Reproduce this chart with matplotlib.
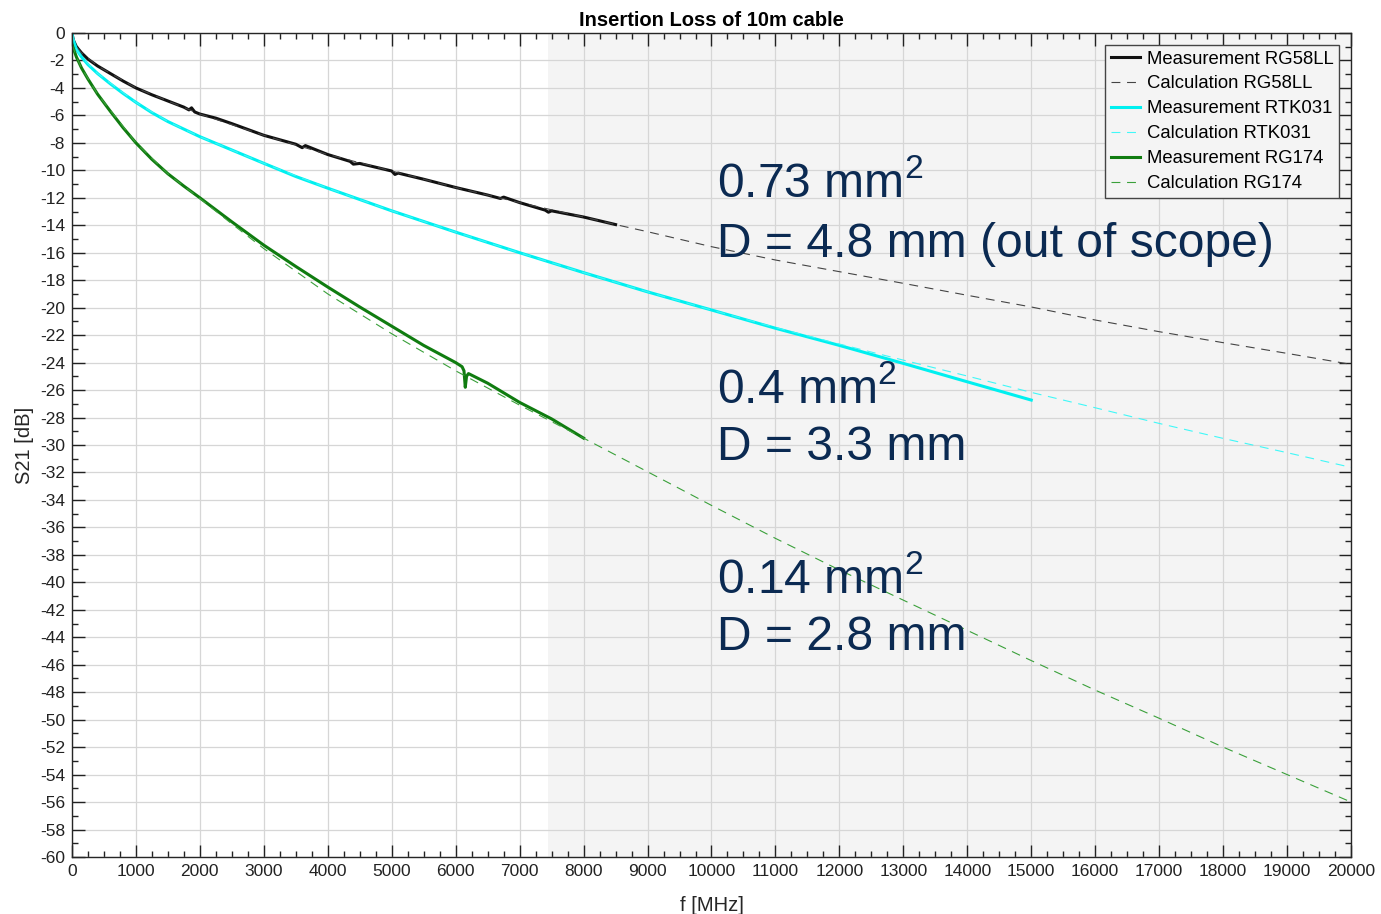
import matplotlib
matplotlib.use('Agg')
import matplotlib.pyplot as plt
from matplotlib.ticker import MultipleLocator

plt.rcParams['font.family'] = ['Liberation Sans', 'DejaVu Sans']
plt.rcParams['axes.unicode_minus'] = False
plt.rcParams['mathtext.fontset'] = 'custom'
plt.rcParams['mathtext.rm'] = 'Liberation Sans'

f_meas_rg58 = [0, 20, 70, 150, 250, 400, 600, 800, 1000, 1250, 1500, 1750,
               1830, 1870, 1920, 2000, 2250, 2500, 3000, 3500, 3600, 3650,
               4000, 4350, 4400, 4500, 5000, 5050, 5100, 5500, 6000, 6500,
               6700, 6750, 7000, 7400, 7450, 7500, 8000, 8500]
s21_meas_rg58 = [0, -0.5, -1.0, -1.45, -1.9, -2.4, -2.95, -3.5, -4.0, -4.5,
                 -4.95, -5.4, -5.6, -5.45, -5.75, -5.9, -6.2, -6.6, -7.45,
                 -8.1, -8.35, -8.2, -8.85, -9.35, -9.55, -9.5, -10.05, -10.3,
                 -10.2, -10.65, -11.25, -11.8, -12.05, -11.95, -12.35, -12.9,
                 -13.05, -12.95, -13.4, -13.95]

f_calc_rg58 = [0, 70, 150, 400, 1000, 1500, 2000, 3000, 4000, 5000, 6000,
               7000, 8000, 8500, 9000, 10000, 11000, 12000, 13000, 14000,
               15000, 16000, 17000, 18000, 19000, 20000]
s21_calc_rg58 = [0, -1.0, -1.45, -2.4, -4.0, -4.95, -5.9, -7.45, -8.85,
                 -10.05, -11.25, -12.35, -13.4, -13.95, -14.47, -15.56,
                 -16.53, -17.38, -18.23, -19.1, -19.95, -20.9, -21.75, -22.55,
                 -23.33, -24.13]

f_meas_rtk = [0, 20, 70, 150, 250, 400, 600, 800, 1000, 1250, 1500, 1750,
              2000, 2500, 3000, 3500, 4000, 5000, 6000, 7000, 8000, 9000,
              10000, 11000, 12000, 13000, 14000, 15000]
s21_meas_rtk = [0, -0.5, -1.2, -1.75, -2.3, -2.95, -3.7, -4.4, -5.05,
                -5.8, -6.45, -7.0, -7.55, -8.52, -9.49, -10.45, -11.3, -12.95,
                -14.5, -16.0, -17.45, -18.85, -20.17, -21.5, -22.75, -24.06,
                -25.4, -26.73]

f_calc_rtk = [0, 70, 150, 400, 1000, 1500, 2000, 3000, 4000, 5000, 6000,
              7000, 8000, 9000, 10000, 11000, 12000, 13000, 14000, 15000,
              16000, 17000, 18000, 19000, 20000]
s21_calc_rtk = [0, -1.2, -1.75, -2.95, -5.05, -6.45, -7.55, -9.49, -11.3,
                -12.95, -14.5, -16.0, -17.45, -18.85, -20.17, -21.45, -22.65,
                -23.82, -24.98, -26.17, -27.29, -28.43, -29.52, -30.56, -31.63]

f_meas_rg174 = [0, 20, 70, 150, 250, 400, 600, 800, 1000, 1250, 1500, 1750,
                2000, 2500, 3000, 3500, 4000, 4500, 5000, 5500, 6000, 6100,
                6130, 6150, 6170, 6200, 6500, 7000, 7500, 8000]
s21_meas_rg174 = [-0.8, -1.1, -1.75, -2.55, -3.35, -4.45, -5.7, -6.9,
                  -8.0, -9.2, -10.25, -11.15, -12.0, -13.75, -15.45, -17.0,
                  -18.5, -19.95, -21.35, -22.75, -24.0, -24.3, -24.6, -25.8,
                  -25.0, -24.8, -25.5, -26.9, -28.1, -29.5]

f_calc_rg174 = [0, 70, 150, 400, 1000, 1500, 2000, 2500, 3000, 4000, 5000,
                6000, 7000, 8000, 9000, 10000, 11000, 12000, 13000, 14000,
                15000, 16000, 17000, 18000, 19000, 20000]
s21_calc_rg174 = [-0.8, -1.75, -2.55, -4.45, -8.0, -10.25, -12.05, -13.9,
                  -15.7, -19.0, -21.9, -24.6, -27.1, -29.5, -31.95, -34.4,
                  -36.8, -39.1, -41.3, -43.5, -45.7, -47.85, -49.9, -52.0,
                  -54.0, -56.0]

labels = ['Measurement RG58LL', 'Calculation RG58LL',
          'Measurement RTK031', 'Calculation RTK031',
          'Measurement RG174', 'Calculation RG174']

notes = [(-11.0, '0.73 mm$^2$'), (-15.4, 'D = 4.8 mm (out of scope)'),
         (-26.0, '0.4 mm$^2$'), (-30.2, 'D = 3.3 mm'),
         (-39.8, '0.14 mm$^2$'), (-44.0, 'D = 2.8 mm')]

fig = plt.figure(figsize=(13.81, 9.14), dpi=100)
ax = fig.add_axes([0.0521, 0.0624, 0.9262, 0.9015])

ax.axvspan(7443, 20000, color='#f4f4f4', zorder=0, lw=0)

ax.plot(f_meas_rg58, s21_meas_rg58, color='#111111', lw=2.2, label=labels[0])
ax.plot(f_calc_rg58, s21_calc_rg58, color='#444444', lw=0.8, dashes=(8, 6),
        label=labels[1])
ax.plot(f_meas_rtk, s21_meas_rtk, color='#00f0f0', lw=2.2, label=labels[2])
ax.plot(f_calc_rtk, s21_calc_rtk, color='#40f8f8', lw=0.8, dashes=(8, 6),
        label=labels[3])
ax.plot(f_meas_rg174, s21_meas_rg174, color='#107c10', lw=2.2, label=labels[4])
ax.plot(f_calc_rg174, s21_calc_rg174, color='#3aa03a', lw=0.8, dashes=(8, 6),
        label=labels[5])

for y, txt in notes:
    ax.text(10080, y, txt, fontsize=34.6, color='#0b2a52', va='center',
            ha='left', zorder=5)

ax.set_xlim(0, 20000)
ax.set_ylim(-60, 0)
ax.xaxis.set_major_locator(MultipleLocator(1000))
ax.xaxis.set_minor_locator(MultipleLocator(250))
ax.yaxis.set_major_locator(MultipleLocator(2))
ax.yaxis.set_minor_locator(MultipleLocator(1))
ax.tick_params(which='both', direction='in', top=True, right=True,
               labelsize=12.5, colors='#222222')
ax.tick_params(which='major', length=9, width=1, pad=5)
ax.tick_params(which='minor', length=4.5, width=1)
ax.grid(True, which='major', color='#d6d6d6', lw=0.9)
ax.set_axisbelow(True)
for sp in ax.spines.values():
    sp.set_color('#262626')
    sp.set_linewidth(1)

ax.set_title('Insertion Loss of 10m cable', fontsize=14.5, fontweight='bold',
             pad=5)
ax.set_xlabel('f [MHz]', fontsize=14.5, color='#262626', labelpad=12)
ax.set_ylabel('S21 [dB]', fontsize=14.5, color='#262626', labelpad=4)

leg = ax.legend(loc='upper right', fontsize=13.3, handlelength=1.6,
                handletextpad=0.35, borderaxespad=0.65, labelspacing=0.43,
                fancybox=False, framealpha=1, facecolor='#f4f4f4',
                edgecolor='#444444', borderpad=0.3)
leg.get_frame().set_linewidth(1)

fig.savefig('out.png', dpi=100)
